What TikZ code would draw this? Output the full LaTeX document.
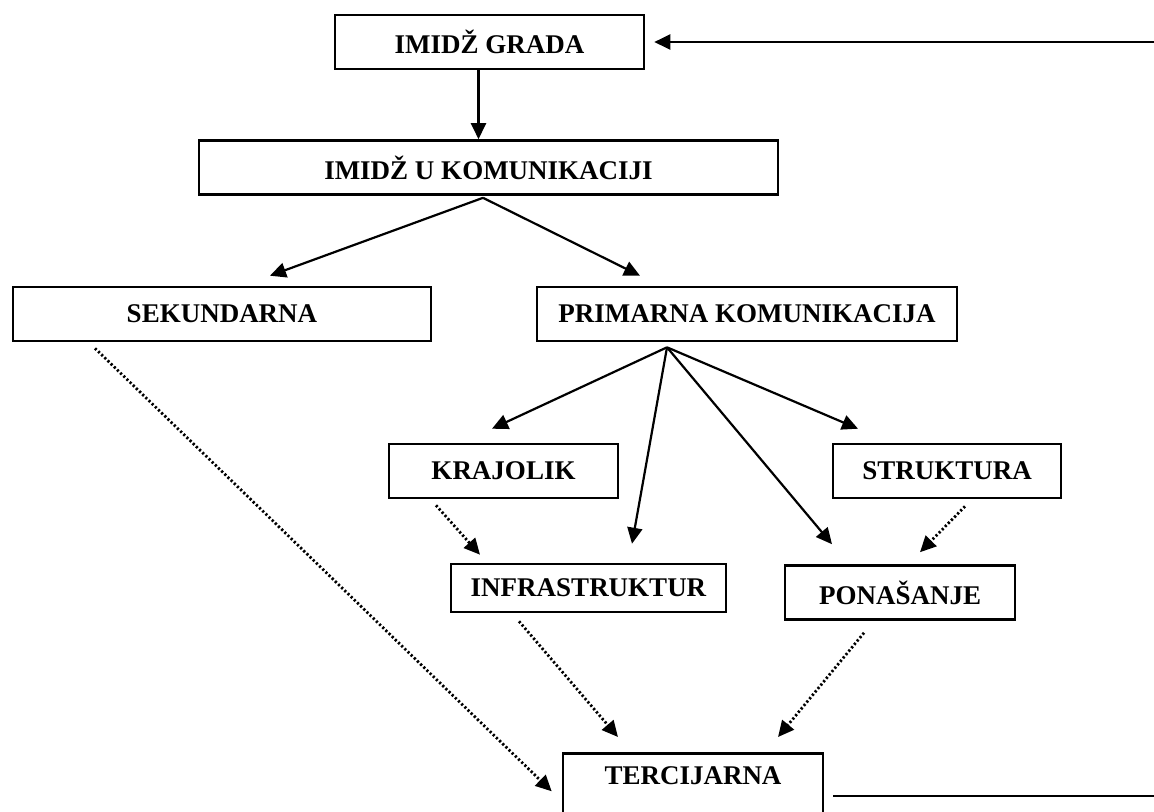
\documentclass[tikz,border=0pt]{standalone}
\usepackage{fontspec}
\setmainfont{Liberation Serif}
\usepackage{tikz}
\usetikzlibrary{arrows.meta,calc}

\tikzset{
  blok/.style={draw,line width=1.3pt,inner sep=0pt,minimum height=27pt,
    font=\bfseries\fontsize{13.5}{15}\selectfont},
  strel/.style={line width=1.1pt,-{Triangle[length=8pt,width=7.5pt]}},
  tacke/.style={line width=1.4pt,dash pattern=on 1.1pt off 1.1pt,
    -{Triangle[length=8pt,width=7.5pt]}}
}

\begin{document}
\begin{tikzpicture}[x=0.5pt,y=-0.5pt]
        \useasboundingbox (0,0) rectangle (1154,811);
        \clip (0,0) rectangle (1154,811);
        % kutije
        \node[blok,minimum width=154.5pt] (grada) at (489.5,42) {IMIDŽ GRADA};
        \node[blok,minimum width=289.5pt] (ukom) at (488.5,167.5) {IMIDŽ U KOMUNIKACIJI};
        \node[blok,minimum width=209pt] (sek) at (222,314) {SEKUNDARNA};
        \node[blok,minimum width=210pt] (prim) at (747,314) {PRIMARNA KOMUNIKACIJA};
        \node[blok,minimum width=114.5pt] (kraj) at (503.5,471) {KRAJOLIK};
        \node[blok,minimum width=114pt] (struk) at (947,471) {STRUKTURA};
        \node[blok,minimum width=137.5pt,minimum height=24pt] (infra) at (588.5,588) {INFRASTRUKTUR};
        \node[blok,minimum width=115pt] (pon) at (900,592.5) {PONAŠANJE};
        \node[blok,minimum width=130pt,minimum height=0pt,text height=15.5pt,text depth=18.5pt,
          anchor=north] (terc) at (693,752) {TERCIJARNA};
        \coordinate (des1) at (1160,796);
        \coordinate (des2) at (1160,42);
        % pune strelice
        \draw[strel] ([xshift=-5.5pt]grada.south) -- ([xshift=-5.5pt]grada.south |- ukom.north);
        \draw[strel] ($(ukom.south)+(-5.5,2)$) -- ($(sek.north)+(48,-10)$);
        \draw[strel] ($(ukom.south)+(-5.5,2)$) -- ($(prim.north)+(-107,-10)$);
        \draw[strel] ($(prim.south)+(-80,5)$) -- ($(kraj.north)+(-11.5,-14)$);
        \draw[strel] ($(prim.south)+(-80,5)$) -- ($(infra.north)+(43.5,-19)$);
        \draw[strel] ($(prim.south)+(-80,5)$) -- ($(pon.north)+(-68,-20)$);
        \draw[strel] ($(prim.south)+(-80,5)$) -- ($(struk.north)+(-89,-14)$);
        % tackaste strelice
        \draw[tacke] ($(sek.south)+(-127,6)$) -- ($(terc.west)+(-10,4)$);
        \draw[tacke] ($(kraj.south)+(-67.5,6)$) -- ($(infra.north)+(-108.5,-8)$);
        \draw[tacke] ($(struk.south)+(18,7)$) -- ($(pon.north)+(20,-12)$);
        \draw[tacke] ($(infra.south)+(-69.5,8)$) -- ($(terc.north)+(-75,-15)$);
        \draw[tacke] ($(pon.south)+(-36,12)$) -- ($(terc.north)+(85,-15)$);
        % povratna veza
        \draw[strel] ([xshift=4.5pt]terc.east |- des1) -- (des1) -- (des2) -- ($(grada.east)+(9,0)$);
      \end{tikzpicture}
\end{document}
